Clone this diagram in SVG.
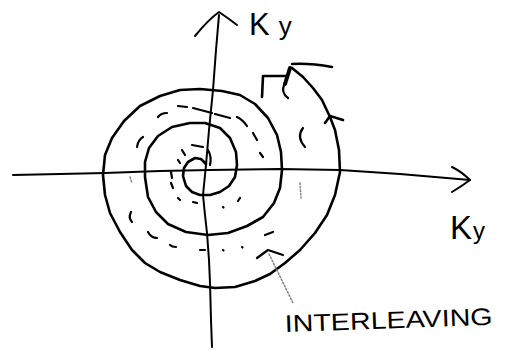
<svg xmlns="http://www.w3.org/2000/svg" width="506" height="360" viewBox="0 0 506 360">
<style>
.ln{fill:none;stroke:#000;stroke-linecap:round;stroke-linejoin:round}
.ax{stroke-width:2}
.sp{stroke-width:2.6}
.d{fill:none;stroke:#000;stroke-width:2.2;stroke-linecap:round;stroke-linejoin:round}
.g{fill:none;stroke:#888;stroke-width:1.6;stroke-linecap:round;stroke-dasharray:1.5 2}
.t{font-family:"Liberation Sans",Arial,sans-serif;fill:#000}
</style>
<rect width="506" height="360" fill="#fff"/>
<g id="axes">
<path class="ln ax" d="M219,15 L216,50 L213,90 L209,130 L206,165 L203,195 L205,215 L207,233 L209,260 L210,283 L211,320 L212,347"/>
<path class="ln ax" d="M195,36 Q208,20 219,12 Q228,18 237,25"/>
<path class="ln ax" d="M13,175 L60,174 L105,173 L160,171 L210,170 L280,169 L340,170 L400,174 L470,180"/>
<path class="ln ax" d="M452,167 Q462,172 470,180 Q462,186 452,192"/>
</g>
<g id="spiral">
<path class="ln sp" d="M206,164 L201,159 L195,158 L188,162 L184,168 L183,176 L186,186 L192,192 L200,195 L210,195 L220,192 L229,186 L235,177 L237,165 L236,152 L230,138 L220,128 L205,123 L190,123 L172,127 L158,136 L149,148 L145,162 L145,177 L148,197 L156,212 L168,224 L186,232 L208,235 L228,233 L247,226 L263,217 L274,203 L280,188 L282,170 L281,152 L277,135 L268,118 L255,104 L240,95 L222,91 L200,89 L180,90 L160,96 L140,106 L124,121 L112,138 L105,155 L103,175 L105,195 L110,213 L120,232 L132,250 L145,263 L160,272 L180,280 L200,286 L215,288 L235,287 L255,281 L270,274 L285,263 L300,250 L315,233 L327,215 L335,195 L340,172 L339,150 L335,130 L330,117 L322,100 L313,88 L303,77 L292,68"/>
<path class="ln sp" d="M325,123 L330,116 L343,120"/>
<path class="ln sp" d="M292,64 Q310,63 332,67"/>
<path class="ln" stroke-width="4" d="M290,68 L285,84"/>
<path class="ln sp" d="M262,97 L263,76 L286,76"/>
</g>
<g id="dashes">
<path class="d" d="M178,106 L187,107"/>
<path class="d" d="M193,108 L212,113 M215,114 L230,118"/>
<path class="d" d="M237,117 Q243,120 247,126"/>
<path class="d" d="M253,133 L257,140"/>
<path class="d" d="M260,153 L263,157"/>
<path class="d" d="M158,117 Q161,113 167,113"/>
<path class="d" d="M137,147 Q138,140 143,137"/>
<path class="d" d="M303,128 Q296,137 305,147"/>
<path class="d" d="M284,85 Q281,93 288,98"/>
<path class="d" d="M192,145 L203,147"/>
<path class="d" d="M208,150 Q212,157 210,165"/>
<path class="d" d="M182,150 L185,155"/>
<path class="d" d="M178,160 L180,163"/>
<path class="d" d="M171,172 L172,178"/>
<path class="d" d="M171,183 L173,188"/>
<path class="d" d="M178,198 L180,200"/>
<path class="d" d="M193,202 L197,203"/>
<path class="d" d="M238,201 L240,198"/>
<path class="d" d="M223,207 L223.5,207.5"/>
<path class="d" d="M131,212 Q128,218 132,222"/>
<path class="d" d="M148,232 Q151,238 157,238"/>
<path class="d" d="M170,245 Q172,247 176,247"/>
<path class="d" d="M200,250 L205,250"/>
<path class="d" d="M223,250 L223.5,250.5"/>
<path class="d" d="M242,247 L242.5,247.5"/>
<path class="d" d="M265,235 L273,232"/>
<path class="g" d="M130,177 L132,183"/>
<path class="g" d="M300,183 L301,198"/>
</g>
<g id="interleaving-pointer">
<path class="g" d="M269,254 L293,303"/>
<path class="ln" stroke-width="2.2" d="M257,258 L268,250 L283,255"/>
</g>
<g id="labels">
<text class="t" x="249" y="35" font-size="31">K<tspan dx="9" font-size="26">y</tspan></text>
<text class="t" x="450" y="239" font-size="33">K<tspan dx="1" font-size="24">y</tspan></text>
<text class="t" x="285" y="332" font-size="24" textLength="208" lengthAdjust="spacingAndGlyphs" transform="rotate(-2 285 332)">INTERLEAVING</text>
</g>
</svg>
